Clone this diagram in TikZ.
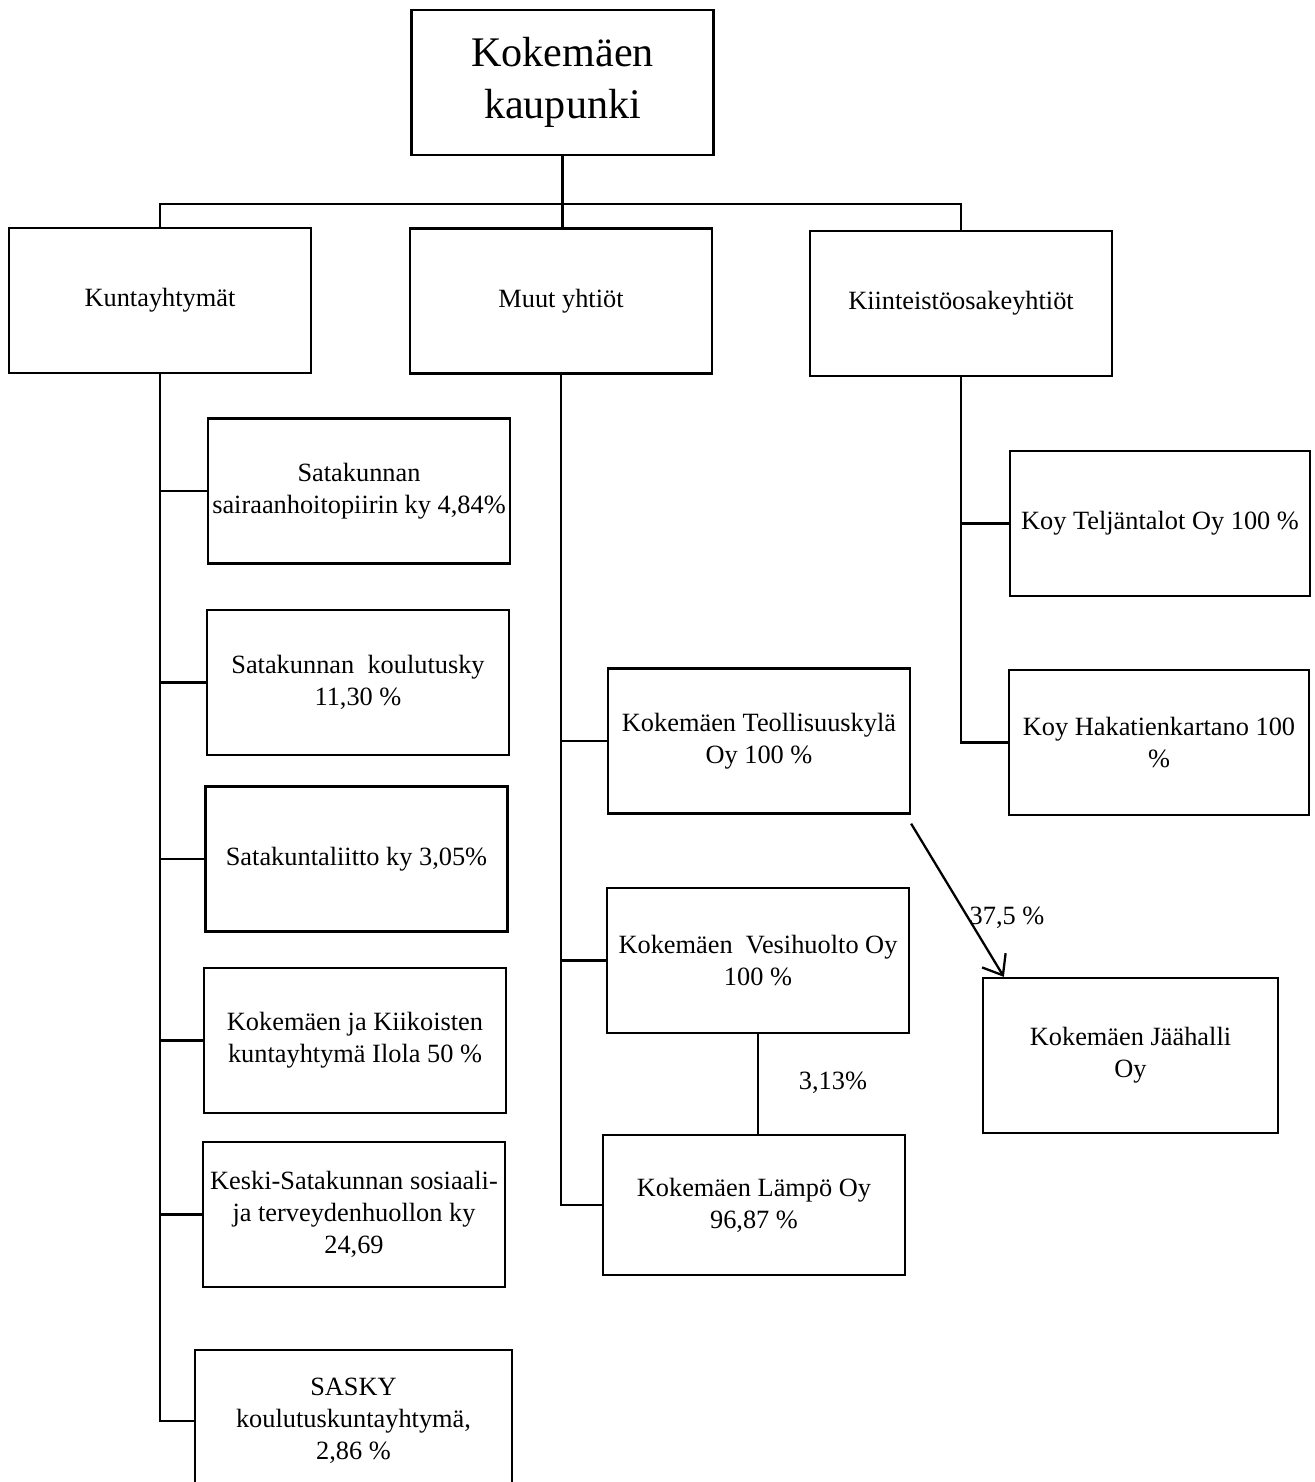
\documentclass[tikz,border=0pt]{standalone}
\usepackage{fontspec}
\setmainfont{Liberation Serif}
\usetikzlibrary{
    arrows.meta,
    positioning
}

\begin{document}
\begin{tikzpicture}[x=0.02cm, y=-0.02cm,
    orgbox/.style={draw, line width=1.3pt, minimum width=6.04cm, minimum height=2.9cm,
        inner sep=0pt, align=center, font=\fontsize{15}{18.2}\selectfont},
    conn/.style={line width=1.3pt},
    pct/.style={font=\fontsize{15}{18}\selectfont}]
    \useasboundingbox (0, 0) rectangle (1315, 1482);

    % top level
    \node[orgbox, font=\fontsize{24}{29.5}\selectfont] (city) at (562.5, 82.5) {Kokemäen\\kaupunki};
    \node[orgbox] (kunta) at (160, 300.5) {Kuntayhtymät};
    \node[orgbox] (muut) at (561, 301) {Muut yhtiöt};
    \node[orgbox] (kiint) at (961, 303.5) {Kiinteistöosakeyhtiöt};
    \coordinate (bar) at (562.5, 204);

    % kuntayhtymat
    \node[orgbox] (spk) at (359, 491) {Satakunnan\\sairaanhoitopiirin ky 4,84\%};
    \node[orgbox] (koul) at (358, 682.5) {Satakunnan\ \ koulutusky\\11,30 \%};
    \node[orgbox] (liitto) at (356.5, 859) {Satakuntaliitto ky 3,05\%};
    \node[orgbox] (ilola) at (355, 1040.5) {Kokemäen ja Kiikoisten\\kuntayhtymä Ilola 50 \%};
    \node[orgbox] (kesk) at (354, 1214.5) {Keski-Satakunnan sosiaali-\\ja terveydenhuollon ky\\24,69};
    \node[orgbox, minimum width=6.34cm, minimum height=2.84cm] (sasky) at (353.5, 1421) {SASKY\\koulutuskuntayhtymä,\\2,86 \%};

    % muut yhtiot
    \node[orgbox] (teol) at (759, 741) {Kokemäen Teollisuuskylä\\Oy 100 \%};
    \node[orgbox] (vesi) at (758, 960.5) {Kokemäen\ \ Vesihuolto Oy\\100 \%};
    \node[orgbox, minimum height=2.8cm] (lampo) at (754, 1205) {Kokemäen Lämpö Oy\\96,87 \%};
    \node[orgbox, minimum width=5.9cm, minimum height=3.1cm] (jaa) at (1130.5, 1055.5) {Kokemäen Jäähalli\\Oy};

    % kiinteistot
    \node[orgbox, minimum width=6cm] (telj) at (1160, 523.5) {Koy Teljäntalot Oy 100 \%};
    \node[orgbox, minimum width=6cm] (haka) at (1159, 742.5) {Koy Hakatienkartano 100\\\%};

    \node[pct] (p313) at (833, 1083) {3,13\%};
    \node[pct] (p375) at (1007, 918) {37,5 \%};

    \draw[conn] (city.south) -- (bar);
    \draw[conn] (kunta.north) |- (bar) -| (kiint.north);
    \draw[conn] (bar) -- (bar |- muut.north);

    \draw[conn] (kunta.south) -- (kunta.south |- sasky.west) -- (sasky.west);
    \foreach \b in {spk, koul, liitto, ilola, kesk}
        \draw[conn] (kunta.south |- \b.west) -- (\b.west);

    \draw[conn] (muut.south) -- (muut.south |- lampo.west) -- (lampo.west);
    \foreach \b in {teol, vesi}
        \draw[conn] (muut.south |- \b.west) -- (\b.west);
    \draw[conn] (vesi.south) -- (vesi.south |- lampo.north);

    \draw[conn] (kiint.south) -- (kiint.south |- haka.west) -- (haka.west);
    \draw[conn] (kiint.south |- telj.west) -- (telj.west);

    \draw[conn, -{Straight Barb[length=3.5mm, width=5.5mm]}]
        ([yshift=-0.18cm]teol.south east) -- ([xshift=0.44cm]jaa.north west);
\end{tikzpicture}
\end{document}
